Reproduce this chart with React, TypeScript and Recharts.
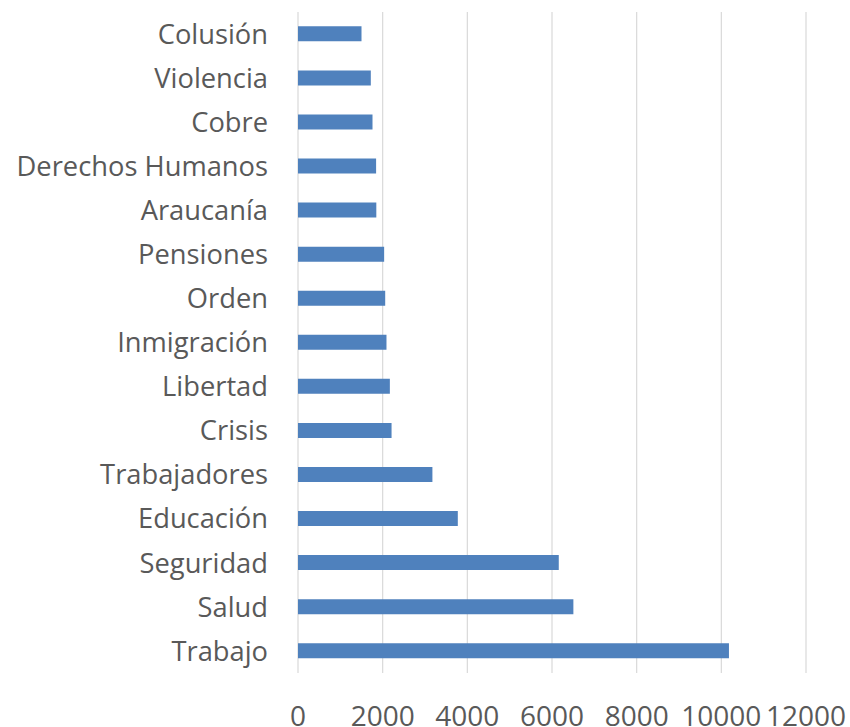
import { Bar, BarChart, CartesianGrid, XAxis, YAxis } from "recharts";

const categories = [
  "Colusión",
  "Violencia",
  "Cobre",
  "Derechos Humanos",
  "Araucanía",
  "Pensiones",
  "Orden",
  "Inmigración",
  "Libertad",
  "Crisis",
  "Trabajadores",
  "Educación",
  "Seguridad",
  "Salud",
  "Trabajo",
];

const counts = [1500, 1720, 1760, 1845, 1850, 2035, 2060, 2090, 2170, 2210, 3175, 3775, 6160, 6505, 10180];

const xTicks = [0, 2000, 4000, 6000, 8000, 10000, 12000];

const rows = categories.map((name, i) => ({ name, value: counts[i] }));

const textColor = "#595959";
const font = "'Open Sans', sans-serif";

export default function App() {
  return (
    <div style={{ position: "absolute", top: 0, left: 0, background: "#fff" }}>
      <BarChart
        width={850}
        height={727}
        data={rows}
        layout="vertical"
        margin={{ top: 12, right: 44, bottom: 0, left: 0 }}
        barCategoryGap="32.5%"
      >
        <CartesianGrid horizontal={false} stroke="#d9d9d9" strokeWidth={1.2} />
        <XAxis
          type="number"
          domain={[0, 12000]}
          ticks={xTicks}
          axisLine={false}
          tickLine={false}
          tickSize={0}
          tickMargin={33}
          height={54}
          interval={0}
          tick={{ fill: textColor, fontSize: 28, fontFamily: font }}
        />
        <YAxis
          type="category"
          dataKey="name"
          width={298}
          axisLine={false}
          tickLine={false}
          tickSize={0}
          tickMargin={30}
          interval={0}
          tick={{ fill: textColor, fontSize: 27.3, fontFamily: font }}
        />
        <Bar dataKey="value" fill="#4f81bd" isAnimationActive={false} />
      </BarChart>
    </div>
  );
}
